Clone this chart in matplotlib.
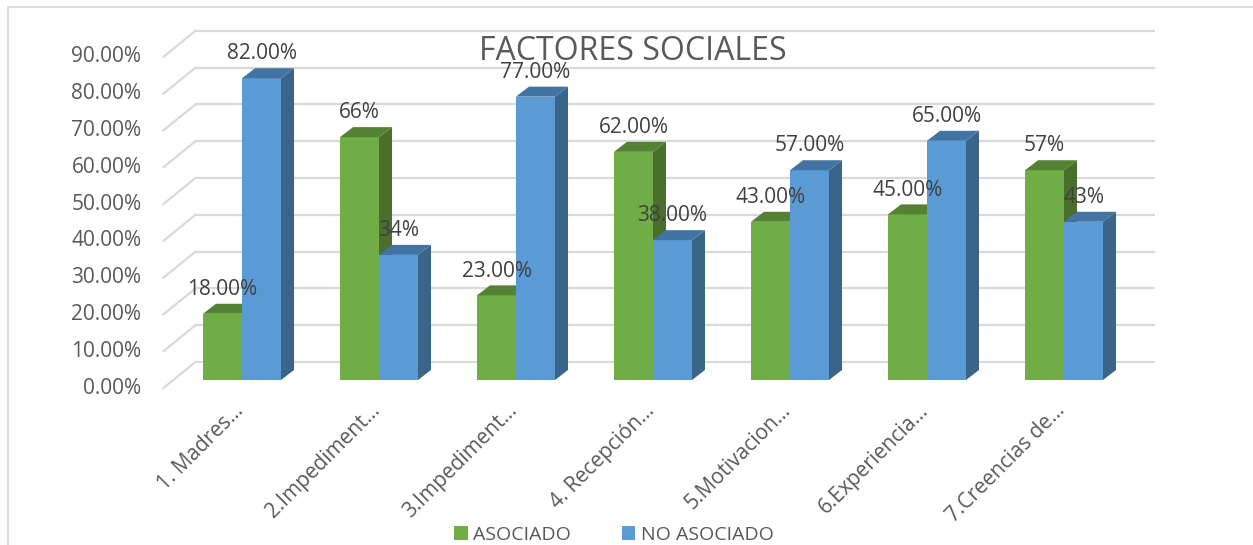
import numpy as np
import matplotlib.pyplot as plt
from matplotlib.patches import Polygon, Rectangle

plt.rcParams['font.family'] = ['Open Sans', 'DejaVu Sans']

categories = ['1. Madres…', '2.Impediment…', '3.Impediment…', '4. Recepción…',
              '5.Motivacion…', '6.Experiencia…', '7.Creencias de…']
asociado = [18, 66, 23, 62, 43, 45, 57]
no_asociado = [82, 34, 77, 38, 57, 65, 43]
asociado_labels = ['18.00%', '66%', '23.00%', '62.00%', '43.00%', '45.00%', '57%']
no_asociado_labels = ['82.00%', '34%', '77.00%', '38.00%', '57.00%', '65.00%', '43%']
y_ticks = np.arange(0, 100, 10)

# figure geometry (pixels)
W, H = 1253, 545
cat_px, pct_px = 137.0, 3.68   # px per category / px per percent
x0_px, y0_px = 242, 380         # centre of first group, baseline of bars

fig = plt.figure(figsize=(W / 100, H / 100), dpi=100)
ax = fig.add_axes([0, 0, 1, 1])
ax.axis('off')
ax.set_xlim(-x0_px / cat_px, (W - x0_px) / cat_px)
ax.set_ylim((y0_px - H) / pct_px, y0_px / pct_px)

# 3d offsets in data units
bar_dx, bar_dy = 13 / cat_px, 10 / pct_px
back_dx, back_dy = 22 / cat_px, 18 / pct_px
front_dx, front_dy = -10 / cat_px, -8 / pct_px

x = np.arange(len(categories))
left_edge, right_edge = x[0] - 0.5, x[-1] + 0.5

# back wall gridlines + floor diagonals
grid_c = '#d9d9d9'
for v in y_ticks:
    ax.plot([left_edge + back_dx, right_edge + back_dx], [v + back_dy] * 2,
            color=grid_c, lw=1.6, zorder=1, solid_capstyle='butt')
    ax.plot([left_edge + front_dx, left_edge + back_dx], [v + front_dy, v + back_dy],
            color=grid_c, lw=1.6, zorder=1)
    ax.text(left_edge + front_dx - 22 / cat_px, v + front_dy, f'{v:.2f}%',
            ha='right', va='center', fontsize=15, color='#595959')

bw = 39 / cat_px


def bars3d(xc, vals, front, side, top, label):
    b = ax.bar(xc, vals, width=bw, color=front, zorder=2, label=label, linewidth=0)
    for xi, v in zip(xc, vals):
        x0, x1 = xi - bw / 2, xi + bw / 2
        ax.add_patch(Polygon([(x1, 0), (x1 + bar_dx, bar_dy), (x1 + bar_dx, v + bar_dy), (x1, v)],
                             closed=True, fc=side, ec='none', zorder=2))
        ax.add_patch(Polygon([(x0, v), (x0 + bar_dx, v + bar_dy), (x1 + bar_dx, v + bar_dy), (x1, v)],
                             closed=True, fc=top, ec='none', zorder=2))
    return b


g = bars3d(x - bw / 2, asociado, '#70ad47', '#4a6e2b', '#548235', 'ASOCIADO')
b = bars3d(x + bw / 2, no_asociado, '#5b9bd5', '#3a6488', '#4274a3', 'NO ASOCIADO')

for xi, v, t in zip(x - bw / 2, asociado, asociado_labels):
    ax.text(xi, v + 6.6, t, ha='center', va='center', fontsize=15, color='#404040', zorder=5)
for xi, v, t in zip(x + bw / 2, no_asociado, no_asociado_labels):
    ax.text(xi, v + 6.6, t, ha='center', va='center', fontsize=15, color='#404040', zorder=5)

for xi, t in zip(x, categories):
    ax.text(xi + 0.04, -20 / pct_px, t, rotation=45, ha='right', va='top',
            fontsize=15, color='#595959')

fig.text(633 / W, 1 - 52 / H, 'FACTORES SOCIALES', ha='center', va='center',
         fontsize=23, color='#595959', zorder=6)

fig.legend(handles=[g, b], labels=['ASOCIADO', 'NO ASOCIADO'], ncol=2, frameon=False,
           loc='center', bbox_to_anchor=(614 / W, 1 - 535 / H), fontsize=14,
           labelcolor='#595959', handlelength=0.7, handleheight=0.7,
           handletextpad=0.3, columnspacing=2.6)

fig.add_artist(Rectangle((7.5 / W, -0.1), 1.2, 1 - 6.5 / H + 0.1, transform=fig.transFigure,
                         fill=False, ec='#d9d9d9', lw=1.3))

fig.savefig('out.png', dpi=100)
